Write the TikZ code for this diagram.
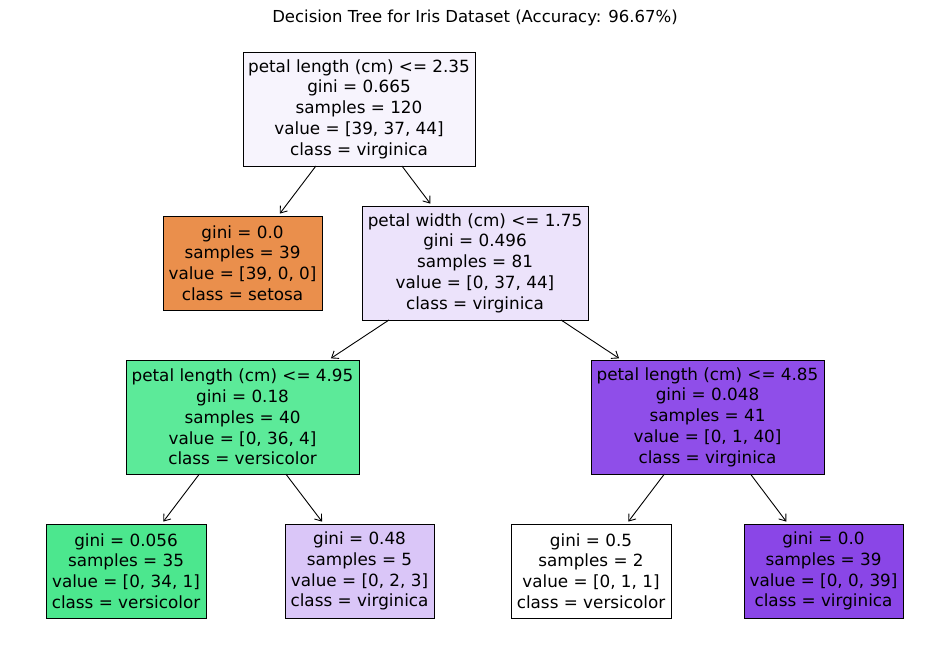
\documentclass[tikz,border=0pt]{standalone}
\usepackage{fontspec}
\setmainfont{DejaVu Sans}
\usetikzlibrary{arrows.meta}
\definecolor{cRoot}{RGB}{247,244,253}
\definecolor{cSetosa}{RGB}{234,143,76}
\definecolor{cPW}{RGB}{236,227,251}
\definecolor{cLL}{RGB}{92,234,153}
\definecolor{cLR}{RGB}{143,78,233}
\definecolor{cLeafA}{RGB}{76,231,142}
\definecolor{cLeafB}{RGB}{218,198,248}
\definecolor{cLeafC}{RGB}{255,255,255}
\definecolor{cLeafD}{RGB}{138,70,231}
\begin{document}
\begin{tikzpicture}[x=1pt,y=-1pt,
  treebox/.style={draw=black, line width=0.9pt, rectangle, align=center, inner sep=0pt, outer sep=0pt,
    font=\fontsize{16.8}{20.8}\selectfont},
  big/.style={treebox, minimum height=114pt},
  small/.style={treebox, minimum height=94pt},
  edge/.style={-{Straight Barb[length=6pt,width=9pt]}, line width=0.9pt, shorten >=3pt}]
\useasboundingbox (0,0) rectangle (950,658);
\fill[white] (0,0) rectangle (950,658);
\node[font=\fontsize{16.5}{20}\selectfont] (title) at (475,18) {Decision Tree for Iris Dataset (Accuracy: 96.67\%)};
\node[big, fill=cRoot, minimum width=232pt] (root) at (359,109)
  {petal length (cm) <= 2.35\\gini = 0.665\\samples = 120\\value = [39, 37, 44]\\class = virginica};
\node[small, fill=cSetosa, minimum width=159pt] (setosa) at (242.5,263)
  {gini = 0.0\\samples = 39\\value = [39, 0, 0]\\class = setosa};
\node[big, fill=cPW, minimum width=226pt] (pw) at (475,263)
  {petal width (cm) <= 1.75\\gini = 0.496\\samples = 81\\value = [0, 37, 44]\\class = virginica};
\node[big, fill=cLL, minimum width=233pt] (ll) at (242.5,417)
  {petal length (cm) <= 4.95\\gini = 0.18\\samples = 40\\value = [0, 36, 4]\\class = versicolor};
\node[big, fill=cLR, minimum width=233pt] (lr) at (707.5,417)
  {petal length (cm) <= 4.85\\gini = 0.048\\samples = 41\\value = [0, 1, 40]\\class = virginica};
\node[small, fill=cLeafA, minimum width=160pt] (la) at (126,571)
  {gini = 0.056\\samples = 35\\value = [0, 34, 1]\\class = versicolor};
\node[small, fill=cLeafB, minimum width=149pt] (lb) at (359.5,571)
  {gini = 0.48\\samples = 5\\value = [0, 2, 3]\\class = virginica};
\node[small, fill=cLeafC, minimum width=160pt] (lc) at (591,571)
  {gini = 0.5\\samples = 2\\value = [0, 1, 1]\\class = versicolor};
\node[small, fill=cLeafD, minimum width=159pt] (ld) at (823.5,571)
  {gini = 0.0\\samples = 39\\value = [0, 0, 39]\\class = virginica};
\draw[edge] (root) -- (setosa);
\draw[edge] (root) -- (pw);
\draw[edge] (pw) -- (ll);
\draw[edge] (pw) -- (lr);
\draw[edge] (ll) -- (la);
\draw[edge] (ll) -- (lb);
\draw[edge] (lr) -- (lc);
\draw[edge] (lr) -- (ld);
\end{tikzpicture}
\end{document}
